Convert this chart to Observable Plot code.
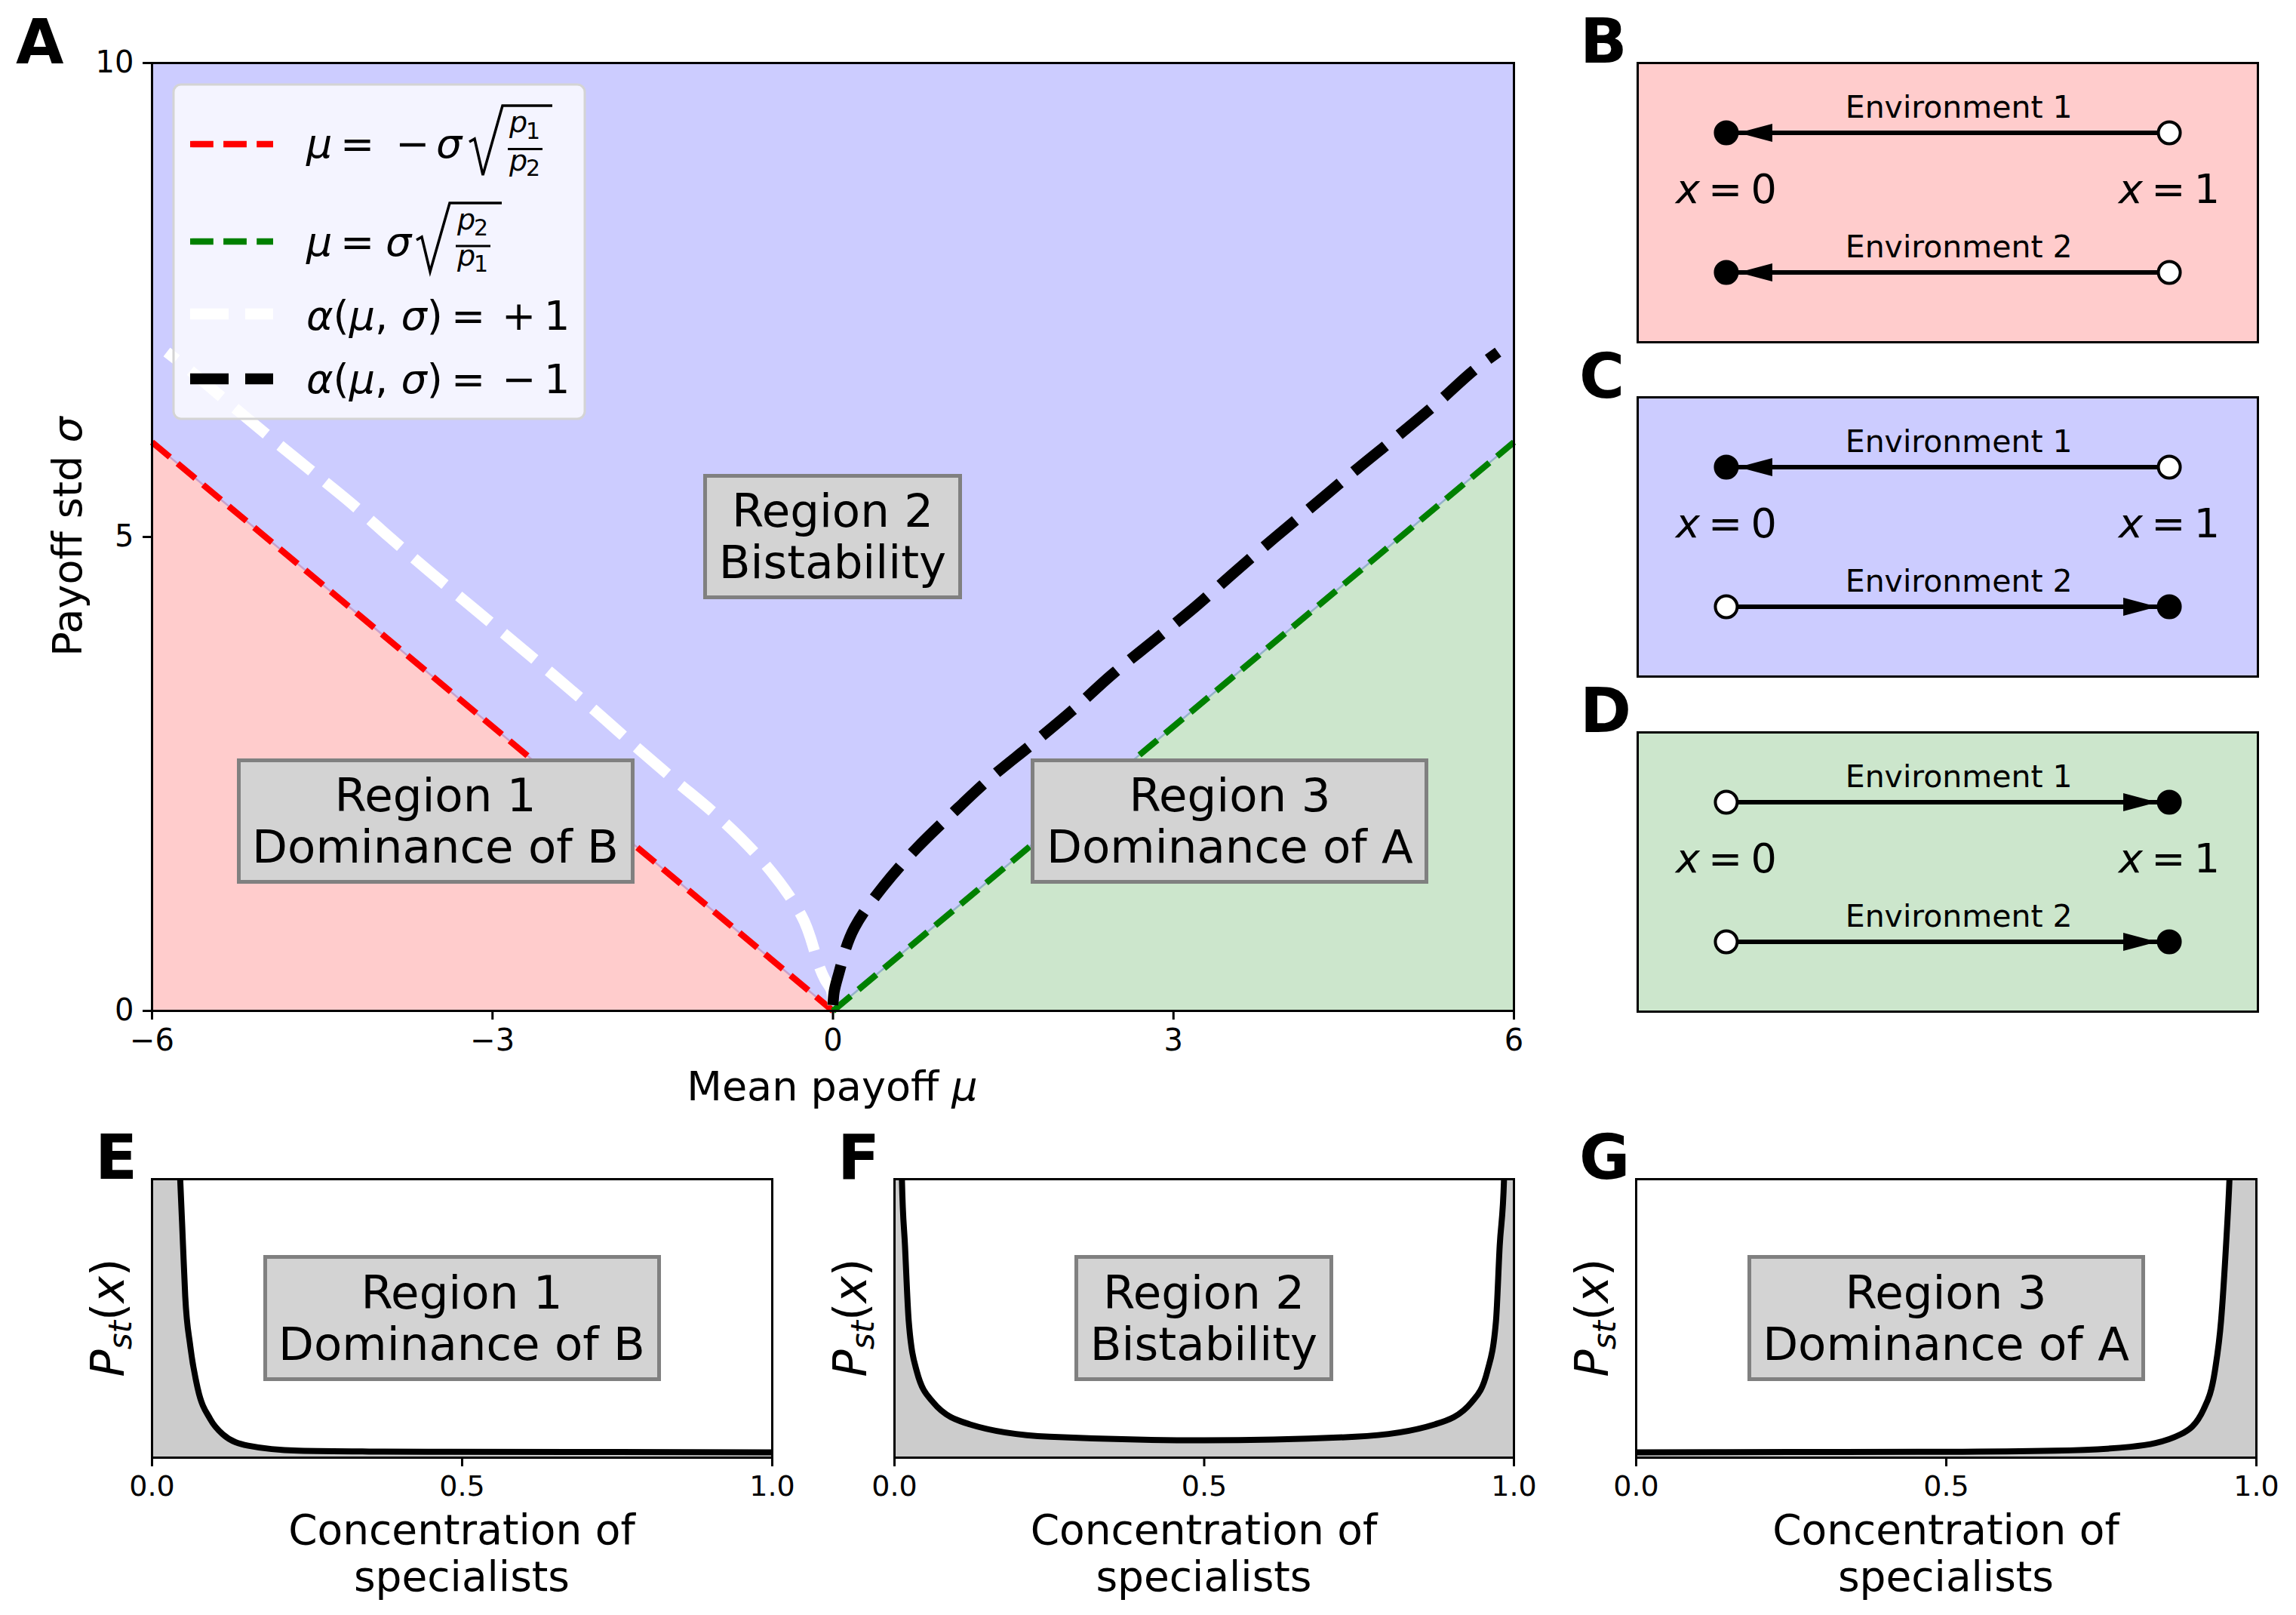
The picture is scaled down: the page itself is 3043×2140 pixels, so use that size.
<!DOCTYPE html>
<html><head><meta charset="utf-8">
<script src="https://cdn.jsdelivr.net/npm/d3@7"></script>
<script src="https://cdn.jsdelivr.net/npm/@observablehq/plot@0.6"></script>
<style>
html,body{margin:0;padding:0;background:#fff;}
#fig{position:relative;width:3043px;height:2140px;font-family:"DejaVu Sans",sans-serif;overflow:hidden;background:#fff;}
#fig svg{position:absolute;}
.rbox{position:absolute;box-sizing:border-box;border:5px solid #808080;background:#d3d3d3;display:flex;align-items:center;justify-content:center;text-align:center;font-family:"DejaVu Sans";font-size:61px;line-height:68px;color:#000;white-space:pre;}
</style></head>
<body><div id="fig"></div>
<script>
// ---------------- data ----------------
const muTicks = [-6, -3, 0, 3, 6];
const sigmaTicks = [0, 5, 10];
const concTicks = [0, 0.5, 1];

const redMu = [-6, 0];
const redSigma = [6, 0];
const greenMu = [0, 6];
const greenSigma = [0, 6];

const whiteMu = [0.00, -0.01, -0.07, -0.28, -0.69, -1.06, -1.40, -1.76, -2.11, -2.47, -2.81, -3.18, -3.54, -3.90, -4.25, -4.62, -4.98, -5.35, -5.71, -5.87];
const whiteSigma = [0.06, 0.20, 0.33, 1.01, 1.67, 2.10, 2.44, 2.81, 3.18, 3.55, 3.89, 4.26, 4.62, 4.99, 5.36, 5.72, 6.07, 6.44, 6.80, 6.95];
const blackMu = [0.00, 0.01, 0.05, 0.19, 0.44, 0.74, 1.04, 1.40, 1.75, 2.10, 2.46, 2.82, 3.19, 3.54, 3.89, 4.25, 4.62, 4.98, 5.34, 5.69, 5.86];
const blackSigma = [0.06, 0.20, 0.39, 0.88, 1.31, 1.72, 2.07, 2.47, 2.81, 3.16, 3.55, 3.90, 4.26, 4.63, 4.99, 5.35, 5.72, 6.07, 6.43, 6.80, 6.95];

const regionNames = ["Region 1\nDominance of B", "Region 2\nBistability", "Region 3\nDominance of A"];
const regionMu = [-3.5, 0, 3.5];
const regionSigma = [2, 5, 2];

// stationary distributions (relative height, frame = 1)
const eX = [0.000, 0.020, 0.035, 0.040, 0.0454, 0.050, 0.0535, 0.0617, 0.0738, 0.094, 0.114, 0.155, 0.236, 0.35, 0.48, 0.75, 1.0];
const eP = [20, 4, 1.6, 1.2, 1.00, 0.76, 0.58, 0.40, 0.247, 0.138, 0.084, 0.043, 0.025, 0.022, 0.021, 0.020, 0.019];
const fX = [0.000, 0.005, 0.012, 0.017, 0.023, 0.036, 0.062, 0.121, 0.25, 0.5, 0.744, 0.873, 0.932, 0.957, 0.971, 0.977, 0.984, 0.993, 1.0];
const fP = [20, 3, 1.00, 0.76, 0.49, 0.31, 0.20, 0.12, 0.075, 0.062, 0.075, 0.12, 0.20, 0.31, 0.49, 0.76, 1.00, 3, 20];
const gX = [0.000, 0.25, 0.5, 0.675, 0.797, 0.878, 0.915, 0.933, 0.943, 0.951, 0.9566, 0.965, 0.98, 1.0];
const gP = [0.019, 0.020, 0.021, 0.025, 0.039, 0.084, 0.174, 0.31, 0.49, 0.76, 1.00, 1.6, 4, 20];

// phase diagrams
const envLabels = ["Environment 1", "Environment 2"];
const envLevels = [1, 0];
const endLabels = ["x = 0", "x = 1"];
const endPositions = [0, 1];
const stableB = [0, 0];
const stableC = [0, 1];
const stableD = [1, 1];

const redFill = "#ffcccc", blueFill = "#ccccff", greenFill = "#cce6cc";

// ---------------- helpers ----------------
const fig = document.getElementById("fig");
const baseStyle = {fontFamily: "DejaVu Sans", background: "transparent", overflow: "visible", color: "black"};
const fmtMinus = d => (d < 0 ? "\u2212" + Math.abs(d) : String(d));
function place(el, left, top) { el.style.left = left + "px"; el.style.top = top + "px"; fig.appendChild(el); return el; }
function box(text, cx, cy, w, h) {
  const d = document.createElement("div");
  d.className = "rbox"; d.textContent = text;
  d.style.width = w + "px"; d.style.height = h + "px";
  d.style.left = (cx - w / 2) + "px"; d.style.top = (cy - h / 2) + "px";
  fig.appendChild(d);
}

// ---------------- panel A ----------------
const toRows = (a, b) => a.map((v, i) => ({mu: v, sigma: b[i]}));
const redData = toRows(redMu, redSigma), greenData = toRows(greenMu, greenSigma);
const whiteData = toRows(whiteMu, whiteSigma), blackData = toRows(blackMu, blackSigma);

const plotA = Plot.plot({
  width: 2060, height: 1420,
  marginLeft: 201, marginTop: 83, marginRight: 54, marginBottom: 81,
  x: {domain: [-6, 6]}, y: {domain: [0, 10]},
  style: {...baseStyle, fontSize: "40px"},
  marks: [
    Plot.frame({fill: blueFill}),
    Plot.areaY(redData, {x: "mu", y: "sigma", fill: redFill}),
    Plot.areaY(greenData, {x: "mu", y: "sigma", fill: greenFill}),
    Plot.line(redData, {x: "mu", y: "sigma", stroke: "#c8a0cc", strokeWidth: 2.5}),
    Plot.line(greenData, {x: "mu", y: "sigma", stroke: "#94b2c8", strokeWidth: 2.5}),
    Plot.line(redData, {x: "mu", y: "sigma", stroke: "red", strokeWidth: 8.3, strokeDasharray: "30.8,13.3", strokeLinecap: "butt"}),
    Plot.line(greenData, {x: "mu", y: "sigma", stroke: "green", strokeWidth: 8.3, strokeDasharray: "30.8,13.3", strokeLinecap: "butt"}),
    Plot.line(whiteData, {x: "mu", y: "sigma", stroke: "white", strokeWidth: 14.6, strokeDasharray: "54,23.4", strokeLinecap: "butt", curve: "monotone-y"}),
    Plot.line(blackData, {x: "mu", y: "sigma", stroke: "black", strokeWidth: 14.6, strokeDasharray: "54,23.4", strokeLinecap: "butt", curve: "monotone-y"}),
    Plot.frame({stroke: "black", strokeWidth: 3}),
    Plot.axisX({ticks: muTicks, tickFormat: fmtMinus, tickSize: 12, tickPadding: 12, strokeWidth: 3, label: null}),
    Plot.axisY({ticks: sigmaTicks, tickSize: 12, tickPadding: 12, strokeWidth: 3, label: null})
  ]
});
place(plotA, 0, 0);
{
  const sx = plotA.scale("x"), sy = plotA.scale("y");
  regionNames.forEach((t, i) => box(t, sx.apply(regionMu[i]), sy.apply(regionSigma[i]), i === 1 ? 343 : 527, 166));
}

// ---------------- panels E, F, G ----------------
function distPlot(xs, ps, svgLeft, marginLeft, frameW, label) {
  const data = xs.map((x, i) => ({x, p: ps[i]}));
  const p = Plot.plot({
    width: marginLeft + frameW + 30, height: 82 + 369 + 80,
    marginLeft, marginRight: 30, marginTop: 82, marginBottom: 80,
    x: {domain: [0, 1]}, y: {domain: [0, 1], axis: null},
    style: {...baseStyle, fontSize: "38px"},
    marks: [
      Plot.areaY(data, {x: "x", y: "p", fill: "#cccccc", clip: true, curve: "monotone-x"}),
      Plot.line(data, {x: "x", y: "p", stroke: "black", strokeWidth: 8, clip: true, curve: "monotone-x"}),
      Plot.frame({stroke: "black", strokeWidth: 3}),
      Plot.axisX({ticks: concTicks, tickFormat: d3.format(".1f"), tickSize: 12, tickPadding: 12, strokeWidth: 3, label: null})
    ]
  });
  place(p, svgLeft, 1480);
  const sx = p.scale("x"), sy = p.scale("y");
  box(label, svgLeft + sx.apply(0.5), 1480 + sy.apply(0.5), label.includes("Bistab") ? 343 : 527, 167);
  return p;
}
distPlot(eX, eP, 0, 201, 822, regionNames[0]);
distPlot(fX, fP, 1000, 185, 821, regionNames[1]);
distPlot(gX, gP, 2000, 168, 822, regionNames[2]);

// ---------------- panels B, C, D ----------------
const headRight = {draw(ctx) { ctx.moveTo(-16, 0); ctx.lineTo(-61, -12); ctx.lineTo(-61, 12); ctx.closePath(); }};
const headLeft = {draw(ctx) { ctx.moveTo(16, 0); ctx.lineTo(61, -12); ctx.lineTo(61, 12); ctx.closePath(); }};
function diagram(stable, fill, top) {
  const arrows = envLevels.map((y, i) => ({y, to: stable[i], from: 1 - stable[i]}));
  const envText = envLevels.map((y, i) => ({x: 0.525, y: y + 0.11, text: envLabels[i]}));
  const ends = endPositions.map((x, i) => ({x, y: 0.5, text: endLabels[i]}));
  const p = Plot.plot({
    width: 70 + 822 + 40, height: 83 + 370 + 20,
    marginLeft: 70, marginRight: 40, marginTop: 83, marginBottom: 20,
    x: {domain: [-0.2, 1.2], axis: null}, y: {domain: [-0.5, 1.5], axis: null},
    style: {...baseStyle, fontSize: "41px"},
    marks: [
      Plot.frame({fill}),
      Plot.link(arrows, {x1: "from", y1: "y", x2: "to", y2: "y", stroke: "black", strokeWidth: 6}),
      Plot.dot(arrows.filter(d => d.to > d.from), {x: "to", y: "y", symbol: headRight, fill: "black", stroke: null}),
      Plot.dot(arrows.filter(d => d.to < d.from), {x: "to", y: "y", symbol: headLeft, fill: "black", stroke: null}),
      Plot.dot(arrows, {x: "from", y: "y", r: 14.5, fill: "white", stroke: "black", strokeWidth: 4}),
      Plot.dot(arrows, {x: "to", y: "y", r: 14.5, fill: "black", stroke: "black", strokeWidth: 4}),
      Plot.text(envText, {x: "x", y: "y", text: "text", fontSize: 41, lineAnchor: "bottom"}),
      Plot.text(ends, {x: "x", y: "y", text: "text", fontSize: 54, lineAnchor: "bottom"}),
      Plot.frame({stroke: "black", strokeWidth: 3})
    ]
  });
  // italic math variable x
  p.querySelectorAll("text").forEach(t => {
    const m = /^x = ([01])$/.exec(t.textContent.trim());
    if (m && t.children.length === 0) {
      t.textContent = "";
      t.setAttribute("word-spacing", "-6");
      const a = document.createElementNS("http://www.w3.org/2000/svg", "tspan");
      a.setAttribute("font-style", "italic"); a.textContent = "x";
      const b = document.createElementNS("http://www.w3.org/2000/svg", "tspan");
      b.textContent = " = " + m[1];
      t.appendChild(a); t.appendChild(b);
    }
  });
  place(p, 2100, top);
}
diagram(stableB, redFill, 0);
diagram(stableC, blueFill, 443);
diagram(stableD, greenFill, 887);

// ---------------- overlay: legend, labels, panel letters ----------------
const I = s => `<tspan font-style="italic">${s}</tspan>`;
const pstLabel = `${I("P")}<tspan font-style="italic" font-size="42" dy="10">st</tspan><tspan dy="-10">(</tspan>${I("x")})`;
const xlab = cx => `<text x="${cx}" y="2046" text-anchor="middle" font-size="55">Concentration of</text><text x="${cx}" y="2108" text-anchor="middle" font-size="55">specialists</text>`;
const overlay = `
<svg xmlns="http://www.w3.org/2000/svg" width="3043" height="2140" style="left:0;top:0;pointer-events:none" font-family="DejaVu Sans">
 <g font-weight="bold" font-size="82">
  <text x="21" y="84">A</text><text x="2094" y="83">B</text><text x="2093" y="527">C</text><text x="2094" y="970">D</text>
  <text x="126" y="1562">E</text><text x="1110" y="1562">F</text><text x="2093" y="1562">G</text>
 </g>
 <text x="1103" y="1458" text-anchor="middle" font-size="54">Mean payoff ${I("μ")}</text>
 <text transform="translate(108,711) rotate(-90)" text-anchor="middle" font-size="54">Payoff std ${I("σ")}</text>
 <text transform="translate(164,1746) rotate(-90)" text-anchor="middle" font-size="60">${pstLabel}</text>
 <text transform="translate(1148,1746) rotate(-90)" text-anchor="middle" font-size="60">${pstLabel}</text>
 <text transform="translate(2131,1746) rotate(-90)" text-anchor="middle" font-size="60">${pstLabel}</text>
 ${xlab(612)}${xlab(1595.5)}${xlab(2579)}
 <g>
  <rect x="230" y="112" width="545" height="443" rx="10" fill="#ffffff" fill-opacity="0.78" stroke="#d4d4d4" stroke-width="3"/>
  <line x1="252" y1="191" x2="362" y2="191" stroke="red" stroke-width="8.3" stroke-dasharray="30.8,13.3"/>
  <line x1="252" y1="320" x2="362" y2="320" stroke="green" stroke-width="8.3" stroke-dasharray="30.8,13.3"/>
  <line x1="252" y1="416" x2="362" y2="416" stroke="white" stroke-width="14.6" stroke-dasharray="51,22"/>
  <line x1="252" y1="502" x2="362" y2="502" stroke="black" stroke-width="14.6" stroke-dasharray="51,22"/>
  <g font-size="54">
   <text y="209"><tspan x="406" font-style="italic">μ</tspan><tspan x="451">=</tspan><tspan x="524">−</tspan><tspan x="578" font-style="italic">σ</tspan></text>
   <path d="M622,188 L629,184 L640,232 L666,140 H732" fill="none" stroke="black" stroke-width="3.5" stroke-linejoin="miter"/>
   <text x="675" y="175" font-size="38" font-style="italic">p</text><text x="697" y="184" font-size="30">1</text>
   <line x1="673" y1="197.5" x2="719" y2="197.5" stroke="black" stroke-width="3"/>
   <text x="675" y="226" font-size="38" font-style="italic">p</text><text x="697" y="233" font-size="30">2</text>

   <text y="339"><tspan x="406" font-style="italic">μ</tspan><tspan x="451">=</tspan><tspan x="511" font-style="italic">σ</tspan></text>
   <path d="M552,318 L559,314 L570,360 L596,269 H665" fill="none" stroke="black" stroke-width="3.5"/>
   <text x="606" y="304" font-size="38" font-style="italic">p</text><text x="628" y="312" font-size="30">2</text>
   <line x1="604" y1="326" x2="650" y2="326" stroke="black" stroke-width="3"/>
   <text x="606" y="352" font-size="38" font-style="italic">p</text><text x="628" y="360" font-size="30">1</text>

   <text y="437"><tspan x="406" font-style="italic">α</tspan><tspan>(</tspan><tspan font-style="italic">μ</tspan><tspan>, </tspan><tspan font-style="italic">σ</tspan><tspan>)</tspan><tspan x="598">=</tspan><tspan x="665">+</tspan><tspan x="721">1</tspan></text>
   <text y="521"><tspan x="406" font-style="italic">α</tspan><tspan>(</tspan><tspan font-style="italic">μ</tspan><tspan>, </tspan><tspan font-style="italic">σ</tspan><tspan>)</tspan><tspan x="598">=</tspan><tspan x="665">−</tspan><tspan x="721">1</tspan></text>
  </g>
 </g>
</svg>`;
fig.insertAdjacentHTML("beforeend", overlay);
</script>
</body></html>
